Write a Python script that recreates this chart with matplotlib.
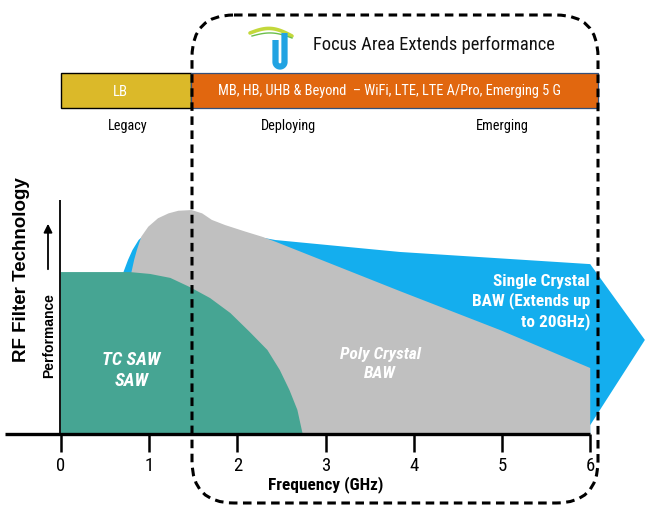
import numpy as np
import matplotlib
matplotlib.use("Agg")
import matplotlib.pyplot as plt
import matplotlib.font_manager as fm
from matplotlib.font_manager import FontProperties
from matplotlib.patches import FancyBboxPatch, Rectangle, FancyArrowPatch

# ---------------- data ----------------
freq_ticks = [0, 1, 2, 3, 4, 5, 6]
tick_labels = ["0", "1", "2", "3", "4", "5", "6"]

# TC SAW / SAW region (frequency GHz, relative performance)
saw_x = [0, 0.44, 0.78, 1.01, 1.24, 1.46, 1.69, 1.92, 2.14, 2.34, 2.48, 2.59, 2.68, 2.73, 2.74]
saw_y = [69.2, 69.2, 69.2, 68.4, 66.7, 62.8, 58.1, 51.7, 43.6, 35.9, 27.4, 18.8, 10.3, 1.7, 0]

# Poly crystal BAW region
poly_x = [0.72, 0.78, 0.80, 0.83, 0.86, 0.91, 0.99, 1.10, 1.22, 1.33, 1.48, 1.60, 1.71, 1.86,
          2.09, 2.28, 2.43, 3.84, 4.98, 6.0, 6.0]
poly_y = [0, 66, 69.4, 74.5, 78.6, 84.3, 88.6, 92.2, 94.3, 95.4, 95.7, 94.3, 91.5, 89.3,
          86.5, 84.3, 82.2, 61.1, 44.4, 28.2, 0]

# Single crystal BAW region (arrow)
single_x = [0.66, 0.69, 0.71, 0.76, 0.81, 0.88, 1.0, 1.3, 1.8, 2.2, 2.43, 3.84, 6.0, 6.62, 6.0, 6.0]
single_y = [0, 66, 69.4, 74.4, 78.6, 82.9, 87, 92, 87, 84.5, 82.9, 77.8, 72.6, 40.2, 3.8, 0]

bands = ["LB", "MB, HB, UHB & Beyond  \u2013 WiFi, LTE, LTE A/Pro, Emerging 5 G"]
stages = ["Legacy", "Deploying", "Emerging"]

# ---------------- fonts ----------------
def _w(f):
    w = f.weight
    if isinstance(w, str):
        w = fm.weight_dict.get(w, 400)
    return int(w)

def narrow_font(bold=False, italic=False):
    prefs = ["Liberation Sans Narrow", "Arial Narrow", "Roboto Condensed",
             "Open Sans Condensed", "DejaVu Sans Condensed"]
    lst = fm.fontManager.ttflist
    for name in prefs:
        cands = [f for f in lst if f.name == name]
        if name == "DejaVu Sans Condensed":
            cands += [f for f in lst if f.name == "DejaVu Sans" and f.stretch == "condensed"]
        if not cands:
            continue
        def score(f):
            s = 0
            s += 0 if (_w(f) >= 600) == bold else 2
            s += 0 if (f.style != "normal") == italic else 1
            return s
        best = min(cands, key=score)
        return FontProperties(fname=best.fname), True
    return FontProperties(family="Liberation Sans", weight="bold" if bold else "normal",
                          style="italic" if italic else "normal"), False

F_REG, HAS_NARROW = narrow_font()
F_BOLD, _ = narrow_font(bold=True)
F_BI, _ = narrow_font(bold=True, italic=True)
K = 1.0 if HAS_NARROW else 0.82   # shrink wide font to match narrow widths

def fp(base, size):
    p = base.copy()
    p.set_size(size)
    return p

# ---------------- style ----------------
C_TEAL = "#46a593"
C_GRAY = "#c0c0c0"
C_BLUE = "#14aeee"
C_YEL = "#dbb929"
C_ORG = "#e1670f"
SANS = ["Liberation Sans", "DejaVu Sans"]

W, H = 647, 513
fig = plt.figure(figsize=(W / 100, H / 100), dpi=100)
fig.patch.set_facecolor("white")

# data axes spanning whole figure: px = 61 + 88.2*GHz ; py = 434 - 2.34*perf
ax = fig.add_axes([0, 0, 1, 1])
ax.set_xlim((0 - 61) / 88.2, (W - 61) / 88.2)
ax.set_ylim((434 - H) / 2.34, 434 / 2.34)
ax.axis("off")

ax.fill(single_x, single_y, color=C_BLUE, lw=0, zorder=1)
ax.fill(poly_x, poly_y, color=C_GRAY, lw=0, zorder=2)
ax.fill(saw_x + [0], saw_y + [0], color=C_TEAL, lw=0, zorder=3)

# axes lines
ax.hlines(0, (5 - 61) / 88.2, 6.0, color="black", lw=2.4, zorder=5)
ax.vlines(-0.015, 0, 100, color="black", lw=1.3, zorder=5)
ax.vlines(freq_ticks, -7.7, 0, color="black", lw=1.8, zorder=5)
for t, lab in zip(freq_ticks, tick_labels):
    ax.text(t, -13.6, lab, ha="center", va="center",
            fontproperties=fp(F_REG, 13.5 * K + (1.5 if not HAS_NARROW else 0)), zorder=6)
ax.text(3.0, -21.6, "Frequency (GHz)", ha="center", va="center",
        fontproperties=fp(F_BOLD, 12.4 * K), zorder=6)

# region labels
ax.text(0.8, 27, "TC SAW\nSAW", ha="center", va="center", color="white",
        fontproperties=fp(F_BI, 13.4 * K), linespacing=1.2, zorder=6)
ax.text(3.62, 30, "Poly Crystal\nBAW", ha="center", va="center", color="white",
        fontproperties=fp(F_BI, 12.4 * K), linespacing=1.3, zorder=6)
ax.text(6.0, 56.5, "Single Crystal\nBAW (Extends up\nto 20GHz)", ha="right", va="center",
        color="white", fontproperties=fp(F_BOLD, 12.4 * K), linespacing=1.25, zorder=6)

# ---------------- overlay in pixel coords ----------------
ov = fig.add_axes([0, 0, 1, 1])
ov.set_xlim(0, W)
ov.set_ylim(H, 0)
ov.axis("off")
ov.patch.set_alpha(0)

# band bar
ov.add_patch(Rectangle((61, 73), 130, 35, facecolor=C_YEL, edgecolor="black", lw=1.0, zorder=2))
ov.add_patch(Rectangle((191, 73), 407, 35, facecolor=C_ORG, edgecolor="#34507a", lw=0.9, zorder=2))
ov.text(120, 91.5, bands[0], ha="center", va="center", color="white",
        fontproperties=fp(F_REG, 10.6 * K), zorder=3)
ov.text(389, 91.5, bands[1], ha="center", va="center", color="white",
        fontproperties=fp(F_REG, 10.4 * K), zorder=3)
for x, s in zip([128, 288, 502], stages):
    ov.text(x, 126, s, ha="center", va="center", fontproperties=fp(F_REG, 10.3 * K), zorder=3)

# title and logo
ov.text(313, 45, "Focus Area Extends performance", ha="left", va="center",
        fontproperties=fp(F_REG, 13.3 * K), color="#111111", zorder=3)
t = np.linspace(0, 1, 40)
ov.plot(250 + 42 * t, 33 - 6 * np.sin(np.pi * t) + 3 * t, color="#c3d83b", lw=2.6,
        solid_capstyle="round", zorder=3)
ov.plot(252 + 40 * t, 36 - 4 * np.sin(np.pi * t) + 2 * t, color="#6cbf4a", lw=1.0, zorder=3)
ang = np.linspace(0, np.pi, 30)
ux = np.r_[275.5, 275.5, 280 - 4.5 * np.cos(ang), 284.5, 284.5]
uy = np.r_[40, 62, 62 + 4.5 * np.sin(ang), 62, 33]
ov.plot(ux, uy, color="#22a3e2", lw=4.5, solid_capstyle="butt", zorder=3)

# y labels
ov.text(22, 270, "RF Filter Technology", rotation=90, ha="center", va="center",
        fontsize=13.5, fontweight="bold", family=SANS, zorder=3)
ov.text(49, 336, "Performance", rotation=90, ha="center", va="center",
        fontsize=10, fontweight="bold", family=SANS, zorder=3)
ov.add_patch(FancyArrowPatch((48, 272), (48, 221), arrowstyle="-|>,head_length=5,head_width=2.5",
                             color="black", lw=1.3, zorder=3))

# dashed focus-area box
ov.add_patch(FancyBboxPatch((192, 15), 406, 488, boxstyle="round,pad=0,rounding_size=42",
                            facecolor="none", edgecolor="black", lw=2.2,
                            linestyle=(0, (2.8, 1.8)), zorder=10))

fig.savefig("out.png", dpi=100, facecolor="white")
